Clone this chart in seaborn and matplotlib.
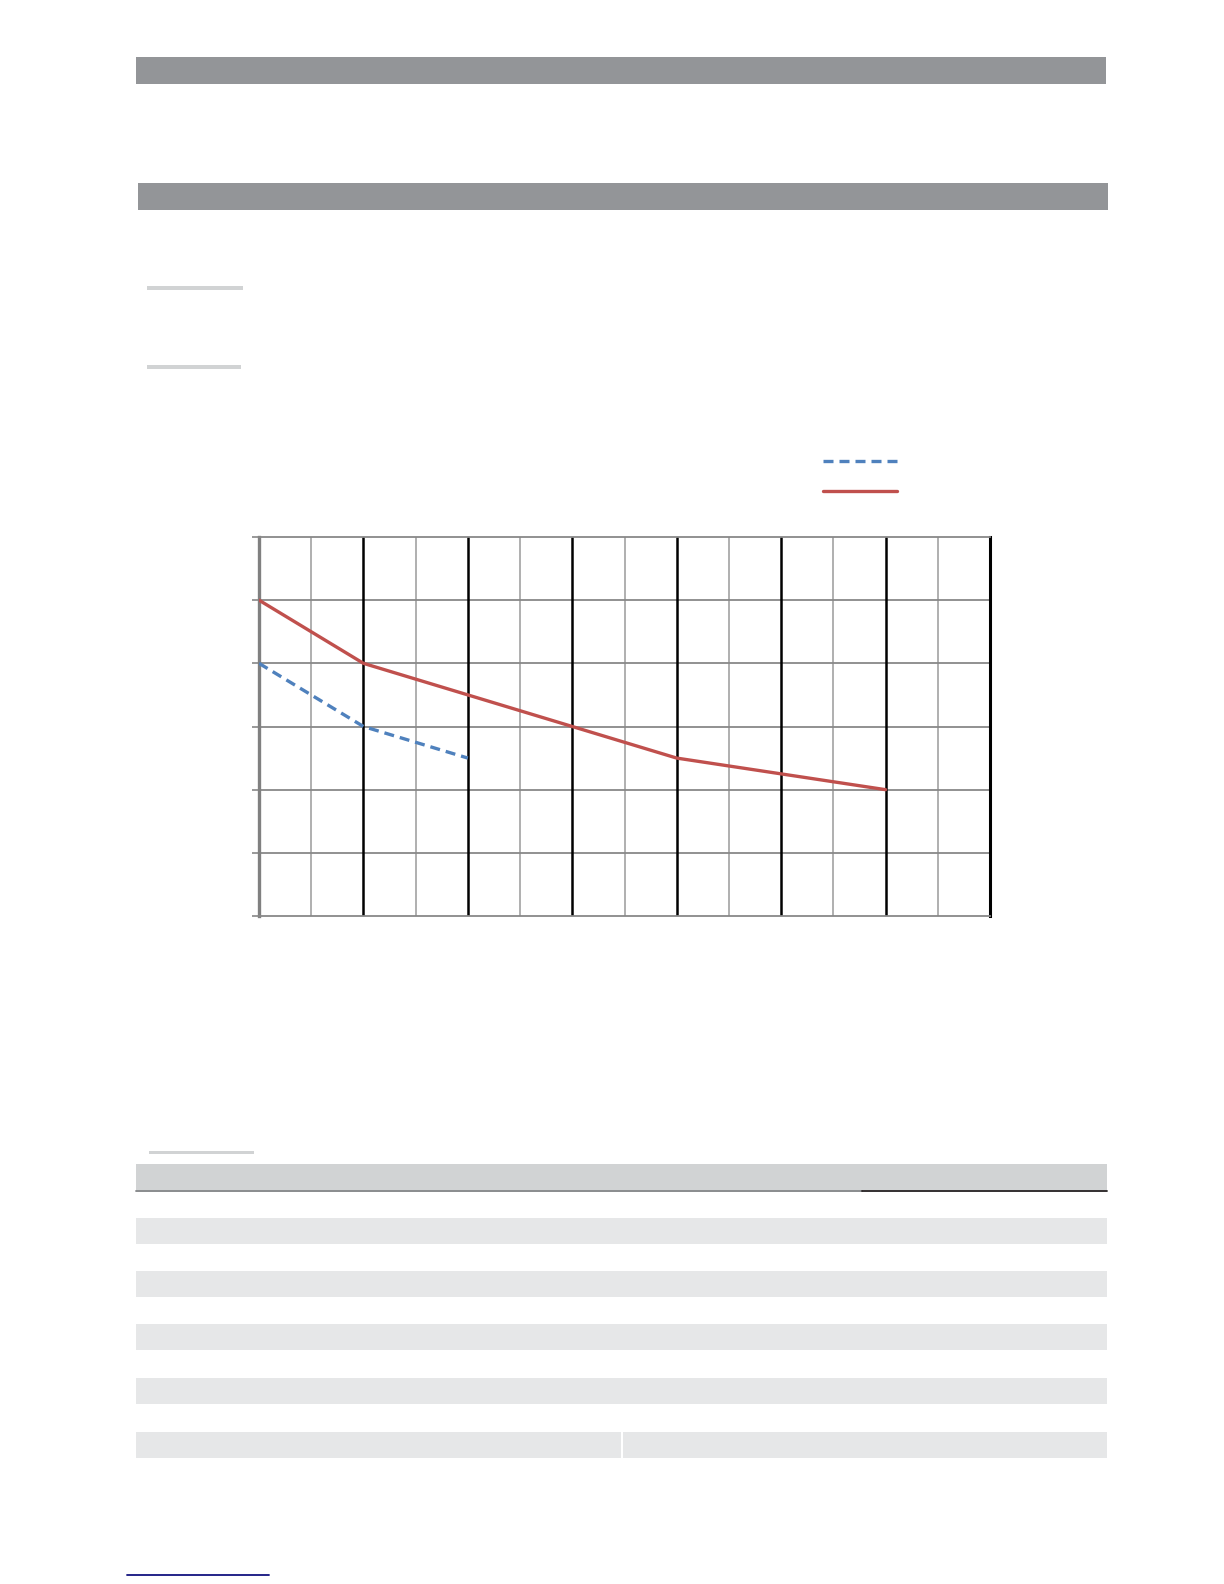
import matplotlib
matplotlib.use("Agg")
import matplotlib.pyplot as plt
from matplotlib.patches import Rectangle
from matplotlib.lines import Line2D
import pandas as pd
import seaborn as sns

sns.set_theme(style="white")
plt.rcParams["font.family"] = ["DejaVu Sans"]

# Chart data (14 x-steps, 6 y-steps)
x_red = [0, 2, 4, 6, 8, 10, 12]
y_red = [5, 4, 3.5, 3, 2.5, 2.25, 2]
x_blue = [0, 2, 4]
y_blue = [4, 3, 2.5]

RED = "#C0504D"
BLUE = "#4F81BD"
DARK_BAR = "#939598"
LIGHT_BAR = "#d1d3d4"
STRIPE = "#e6e7e8"
HGRID = "#888888"
VMINOR = "#a9a9a9"

W, H = 1224, 1584
fig = plt.figure(figsize=(W / 100, H / 100), dpi=100)


def page_rect(x0, y0, x1, y1, color):
    # page coords in pixels from top-left
    fig.patches.append(Rectangle((x0 / W, 1 - y1 / H), (x1 - x0) / W, (y1 - y0) / H,
                                 transform=fig.transFigure, facecolor=color,
                                 edgecolor="none", zorder=0))


def page_line(x0, x1, y, color, lw):
    fig.lines.append(Line2D([x0 / W, x1 / W], [1 - y / H, 1 - y / H],
                            transform=fig.transFigure, color=color, linewidth=lw))


# section header bars
page_rect(136, 57, 1106, 84, DARK_BAR)
page_rect(138, 183, 1108, 210, DARK_BAR)
# short underline bars
page_rect(147, 286, 243, 290, LIGHT_BAR)
page_rect(147, 365, 241, 369, LIGHT_BAR)
page_rect(149, 1151, 254, 1154, LIGHT_BAR)

# table
page_rect(136, 1164, 1107, 1190, LIGHT_BAR)
page_line(136, 862, 1191, "#808285", 1.3)
page_line(862, 1107, 1191, "#231f20", 1.3)
for top in [1218, 1271, 1324, 1378]:
    page_rect(136, top, 1107, top + 26, STRIPE)
page_rect(136, 1432, 621, 1458, STRIPE)
page_rect(623, 1432, 1107, 1458, STRIPE)

# footer link underline
page_line(127, 269, 1575, "#12127f", 1.3)

# chart
ax = fig.add_axes([259 / W, 1 - 916 / H, (990 - 259) / W, (916 - 537) / H])
df_red = pd.DataFrame({"x": x_red, "y": y_red})
df_blue = pd.DataFrame({"x": x_blue, "y": y_blue})
sns.lineplot(data=df_blue, x="x", y="y", ax=ax, color=BLUE, linewidth=2.4,
             linestyle=(0, (3, 1.8)), label=" ", zorder=5)
sns.lineplot(data=df_red, x="x", y="y", ax=ax, color=RED, linewidth=2.4,
             label=" ", zorder=5)

ax.set_xlim(0, 14)
ax.set_ylim(0, 6)
ax.set_xticks(range(2, 15, 2))
ax.set_xticks(range(1, 14, 2), minor=True)
ax.set_yticks(range(0, 7))
ax.grid(False)
for xv in range(1, 14, 2):
    ax.axvline(xv, color=VMINOR, linewidth=1.3, zorder=1)
for xv in range(2, 14, 2):
    ax.axvline(xv, color="black", linewidth=1.8, zorder=2)
for yv in range(1, 6):
    ax.axhline(yv, color=HGRID, linewidth=1.3, zorder=1)
ax.tick_params(axis="y", which="major", length=5, width=1.2, color=HGRID,
               direction="out", left=True, labelleft=False)
ax.tick_params(axis="x", which="both", length=0, labelbottom=False)
ax.set_xlabel("")
ax.set_ylabel("")
for side in ["top", "bottom"]:
    ax.spines[side].set_color(HGRID)
    ax.spines[side].set_linewidth(1.3)
ax.spines["left"].set_color("#808080")
ax.spines["left"].set_linewidth(2.4)
ax.spines["right"].set_color("black")
ax.spines["right"].set_linewidth(2.2)

leg = ax.legend(loc="upper left", bbox_to_anchor=(823 / W, 1 - 455 / H),
                bbox_transform=fig.transFigure, frameon=False, fontsize=10,
                handlelength=5.3, labelspacing=1.15, borderpad=0,
                borderaxespad=0, handletextpad=0.2)

fig.savefig("out.png", dpi=100, facecolor="white")
